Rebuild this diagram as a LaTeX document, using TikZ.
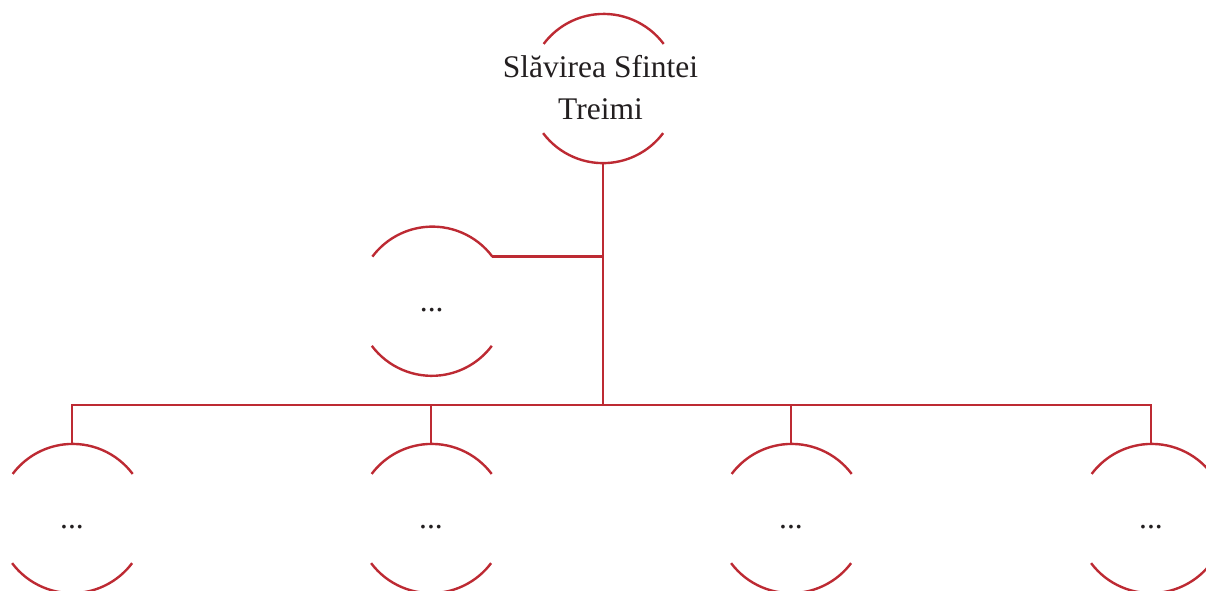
\documentclass[tikz,border=0pt]{standalone}
\usepackage{fontspec}
\setmainfont{Liberation Serif}
\definecolor{linered}{HTML}{BD2A33}
\definecolor{txt}{HTML}{231F20}
\tikzset{
  bubble/.style={circle,minimum size=150bp,inner sep=0pt,outer sep=0pt},
  lbl/.style={inner sep=0pt,outer sep=0pt,text=txt,font=\fontsize{31.5bp}{42bp}\selectfont},
  conn/.style={draw=linered,line width=2.4bp},
}
\newcommand{\cutarcs}[1]{%
  \draw[conn] (#1.36.87) arc[start angle=36.87,end angle=143.13,radius=75bp];
  \draw[conn] (#1.-143.13) arc[start angle=-143.13,end angle=-36.87,radius=75bp];
}
\begin{document}
\begin{tikzpicture}[x=1bp,y=1bp]
\useasboundingbox (0,0) rectangle (1206,-591);
\clip (0,0) rectangle (1206,-591);
% circles
\node[bubble] (t) at (603,-88) {};
\node[bubble] (m) at (431.7,-300.7) {};
\node[bubble] (b1) at (72,-518) {};
\node[bubble] (b2) at (431,-518) {};
\node[bubble] (b3) at (791,-518) {};
\node[bubble] (b4) at (1151,-518) {};
% labels
\node[lbl,align=center] (tl) at ([xshift=-2.5bp,yshift=0.5bp]t.center) {Slăvirea Sfintei\\Treimi};
\node[lbl,anchor=base] (ml) at ([yshift=-11bp]m.center) {...};
\node[lbl,anchor=base] (l1) at ([yshift=-10bp]b1.center) {...};
\node[lbl,anchor=base] (l2) at ([yshift=-10bp]b2.center) {...};
\node[lbl,anchor=base] (l3) at ([yshift=-10bp]b3.center) {...};
\node[lbl,anchor=base] (l4) at ([yshift=-10bp]b4.center) {...};
\foreach \n in {t,m,b1,b2,b3,b4}{\cutarcs{\n}}
% connectors
\coordinate (j) at (603,-405);
\draw[conn] (t.south) -- (j);
\draw[conn] (m.36.87) -- (m.36.87 -| t.south);
\draw[conn] (b1.north) |- (j) -| (b4.north);
\draw[conn] (b2.north) -- (b2.north |- j);
\draw[conn] (b3.north) -- (b3.north |- j);
\end{tikzpicture}
\end{document}
